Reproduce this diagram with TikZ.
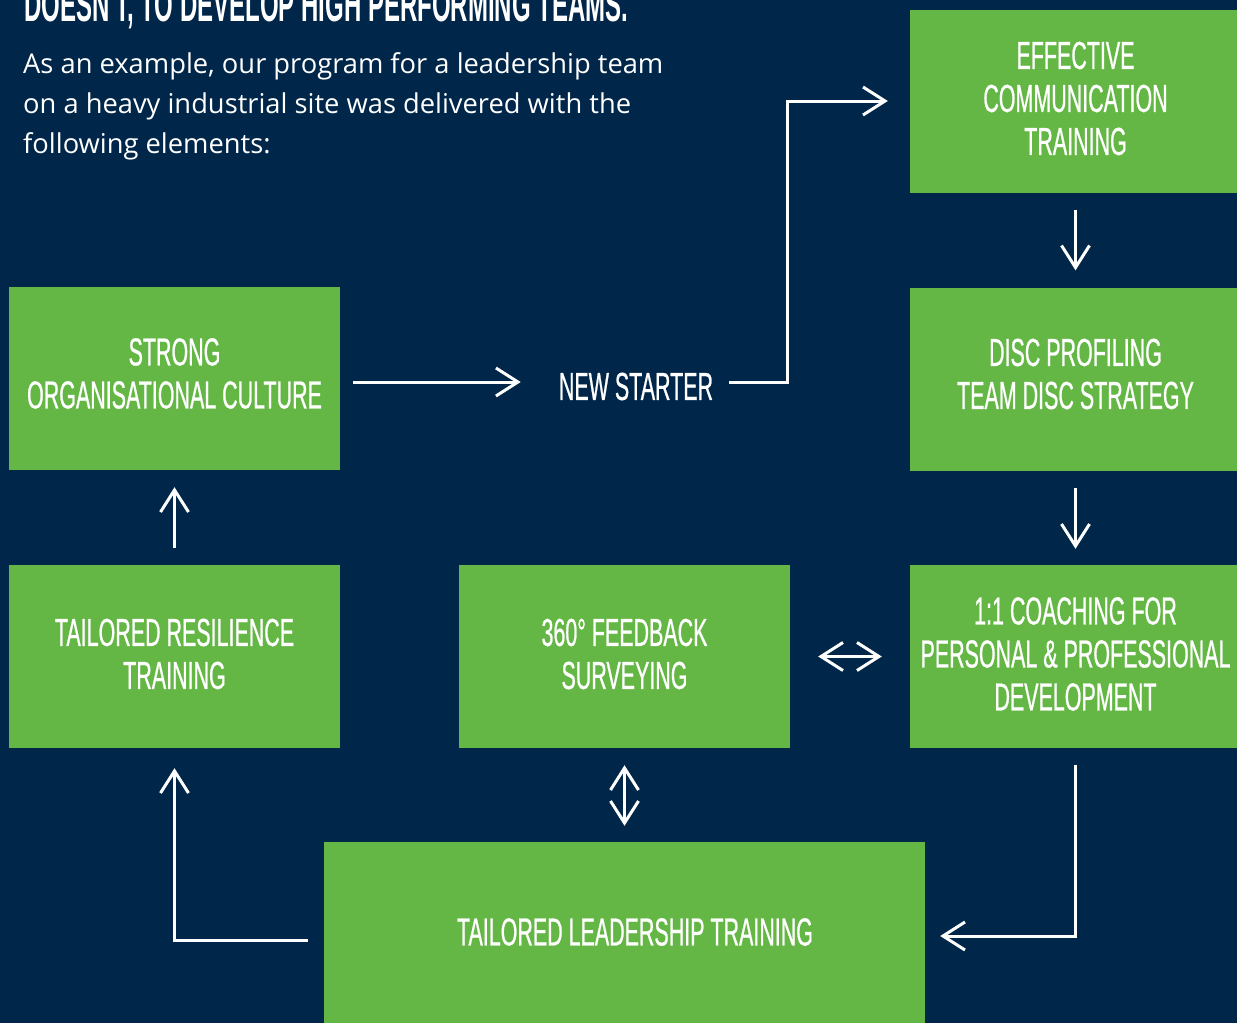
\documentclass[tikz,border=0pt]{standalone}
\usepackage{fontspec}
\usetikzlibrary{arrows.meta}
\setmainfont{Open Sans}
\newfontfamily\cond[FakeStretch=0.55,FakeBold=0.6]{Liberation Sans}
\newfontfamily\condb[FakeStretch=0.5,BoldFont={Liberation Sans Bold}]{Liberation Sans}
\definecolor{navy}{HTML}{00274A}
\definecolor{lgreen}{HTML}{64B745}
\tikzset{
  box/.style={fill=lgreen, draw=none, minimum width=331pt, minimum height=183pt, inner sep=0pt},
  bt/.style={inner sep=0pt, text=white, align=center, font=\cond\fontsize{39}{43}\selectfont},
  arr/.style={draw=white, line width=3pt, -{Straight Barb[length=22pt,width=28pt,line width=3pt]}},
  darr/.style={draw=white, line width=3pt, {Straight Barb[length=22pt,width=28pt,line width=3pt]}-{Straight Barb[length=22pt,width=28pt,line width=3pt]}}
}
\begin{document}
\begin{tikzpicture}[x=1pt,y=-1pt]
\useasboundingbox (0,0) rectangle (1237,1023);
\clip (0,0) rectangle (1237,1023);
\fill[navy] (0,0) rectangle (1237,1023);
% heading and intro
\node[anchor=base west, inner sep=0pt, text=white, font=\condb\bfseries\fontsize{48}{48}\selectfont] (head) at (24,21) {DOESN'T, TO DEVELOP HIGH PERFORMING TEAMS.};
\node[anchor=base west, inner sep=0pt, text=white, align=left, font=\fontsize{27.3}{40}\selectfont] (intro) at (23,153)
  {As an example, our program for a leadership team\\on a heavy industrial site was delivered with the\\following elements:};
% boxes
\node[box] (org) at (174.5,378.5) {};
\node[box] (res) at (174.5,656.5) {};
\node[box] (fb) at (624.5,656.5) {};
\node[box] (eff) at (1075.5,101) {};
\node[box] (disc) at (1075.5,379) {};
\node[box] (coach) at (1075.5,656.5) {};
\node[box, minimum width=601pt, minimum height=181pt] (lead) at (624.5,932.5) {};
\node[bt] (orgt) at (174.5,373.5) {STRONG\\ORGANISATIONAL CULTURE};
\node[bt] (rest) at (174.5,654) {TAILORED RESILIENCE\\TRAINING};
\node[bt] (fbt) at (624.5,654) {360° FEEDBACK\\SURVEYING};
\node[bt] (efft) at (1075.5,98.5) {EFFECTIVE\\COMMUNICATION\\TRAINING};
\node[bt] (disct) at (1075.5,374) {DISC PROFILING\\TEAM DISC STRATEGY};
\node[bt] (coacht) at (1075.5,654) {1:1 COACHING FOR\\PERSONAL \& PROFESSIONAL\\DEVELOPMENT};
\node[bt] (leadt) at (635,932) {TAILORED LEADERSHIP TRAINING};
\node[bt] (ns) at (636,386.5) {NEW STARTER};
% connectors
\draw[arr, shorten <=13pt, shorten >=38pt] (org.east |- 0,382) -- (ns.west |- 0,382);
\draw[arr, shorten <=16pt, shorten >=22pt] (ns.east |- 0,382) -| ([xshift=-122pt]eff.west) -- (eff.west);
\draw[arr, shorten <=17pt, shorten >=17pt] (eff.south) -- (disc.north);
\draw[arr, shorten <=17pt, shorten >=16pt] (disc.south) -- (coach.north);
\draw[darr, shorten <=28pt, shorten >=28pt] (fb.east) -- (coach.west);
\draw[arr, shorten <=17pt, shorten >=17pt] (res.north) -- (org.south);
\draw[darr, shorten <=17pt, shorten >=16pt] (fb.south) -- (fb.south |- lead.north);
\draw[arr, shorten <=17pt, shorten >=15pt] (coach.south) |- ([yshift=-3.5pt]lead.east);
\draw[arr, shorten <=16pt, shorten >=20pt] ([yshift=-7.5pt]lead.west) -| (res.south);
\end{tikzpicture}
\end{document}
